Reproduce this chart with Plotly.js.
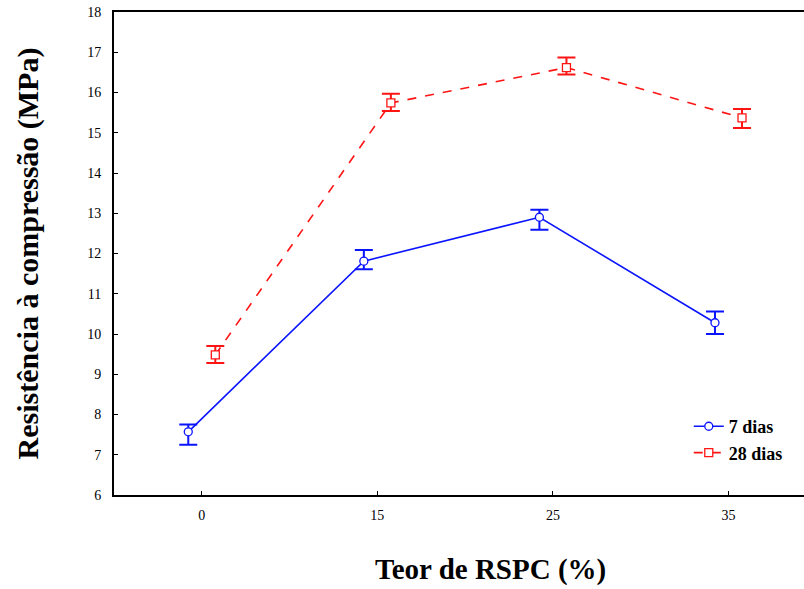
<!DOCTYPE html>
<html><head><meta charset="utf-8">
<script src="https://cdn.plot.ly/plotly-3.0.1.min.js"></script>
<style>html,body{margin:0;padding:0;overflow:hidden;background:#fff}</style>
</head><body><div id="chart" style="width:804px;height:589px"></div>
<script>
const categories = ['0', '15', '25', '35'];
const seriesNames = ['7 dias', '28 dias'];
const mean7 = [7.57, 11.81, 12.9, 10.28];
const upper7 = [7.75, 12.09, 13.09, 10.56];
const lower7 = [7.25, 11.61, 12.59, 10.0];
const mean28 = [9.48, 15.74, 16.62, 15.37];
const upper28 = [9.70, 15.97, 16.87, 15.59];
const lower28 = [9.28, 15.54, 16.45, 15.12];
const xTitle = 'Teor de RSPC (%)';
const yTitle = 'Resistência à compressão (MPa)';

const idx = categories.map((c, i) => i);
const off = 0.077;
const serif = '"Liberation Serif", "Times New Roman", serif';

function trace(name, mean, up, lo, shift, color, symbol, dash) {
  return {
    type: 'scatter', mode: 'lines+markers', name: name,
    x: idx.map(i => i + shift), y: mean,
    line: {color: color, width: 1.6, dash: dash},
    marker: {symbol: symbol, size: 8, color: '#fff', line: {color: color, width: 1.3}},
    error_y: {type: 'data', symmetric: false,
      array: up.map((v, i) => v - mean[i]),
      arrayminus: mean.map((v, i) => v - lo[i]),
      color: color, thickness: 2, width: 9}
  };
}

const data = [
  trace(seriesNames[0], mean7, upper7, lower7, -off, '#0a14ff', 'circle', 'solid'),
  trace(seriesNames[1], mean28, upper28, lower28, off, '#ff1414', 'square', 'dash')
];

const layout = {
  width: 804, height: 589,
  margin: {l: 114, r: 0, t: 12, b: 94},
  paper_bgcolor: '#fff', plot_bgcolor: '#fff',
  showlegend: true,
  legend: {x: 0.833, y: 0.18, xanchor: 'left', yanchor: 'top',
    font: {family: serif, size: 18, color: '#000', weight: 'bold'},
    bgcolor: 'rgba(0,0,0,0)', tracegroupgap: 0},
  annotations: [{
    text: xTitle, xref: 'paper', yref: 'paper', x: 0.546, y: -0.155,
    xanchor: 'center', yanchor: 'middle', showarrow: false,
    font: {family: serif, size: 29, color: '#000', weight: 'bold'}
  }],
  xaxis: {
    range: [-0.5, 3.43], tickvals: idx, ticktext: categories,
    showgrid: false, zeroline: false, showline: true, linecolor: '#000', linewidth: 2,
    mirror: true, ticks: 'inside', ticklen: 4, tickcolor: '#000', ticklabelstandoff: 6,
    tickfont: {family: serif, size: 14, color: '#000'}
  },
  yaxis: {
    range: [6, 18], dtick: 1, showgrid: false, zeroline: false,
    showline: true, linecolor: '#000', linewidth: 2,
    ticks: 'inside', ticklen: 4, tickcolor: '#000', ticklabelstandoff: 8,
    tickfont: {family: serif, size: 14, color: '#000'},
    title: {text: yTitle, standoff: 40,
      font: {family: serif, size: 30, color: '#000', weight: 'bold'}}
  }
};
Plotly.newPlot('chart', data, layout, {displayModeBar: false, staticPlot: true});
</script></body></html>
